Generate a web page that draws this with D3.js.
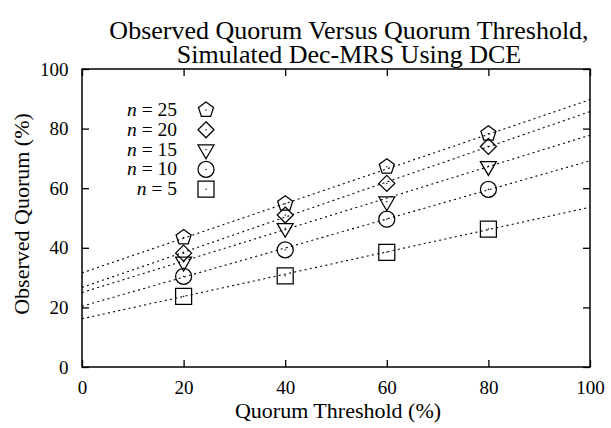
<!DOCTYPE html>
<html>
<head>
<meta charset="utf-8">
<script src="https://cdn.jsdelivr.net/npm/d3@7"></script>
<style>
  body { margin: 0; background: #fff; }
  svg { display: block; }
</style>
</head>
<body>
<div id="chart"></div>
<script>
const width = 611;
const height = 428;
const serif = "'Liberation Serif', 'Times New Roman', serif";

// data
const thresholds = [20, 40, 60, 80];
const nValues = [25, 20, 15, 10, 5];
const shapes = ["pentagon", "diamond", "triangle", "circle", "square"];
const quorum25 = [43.5, 54.8, 67.2, 78.3];
const quorum20 = [38.2, 51.0, 61.6, 74.0];
const quorum15 = [35.3, 46.6, 55.5, 67.4];
const quorum10 = [30.4, 39.3, 49.6, 59.6];
const quorum5 = [23.7, 30.6, 38.5, 46.3];
const observed = [quorum25, quorum20, quorum15, quorum10, quorum5];
// fitted lines, value at threshold 0 and at 100
const fitAt0 = [31.6, 26.7, 25.0, 20.4, 16.2];
const fitAt100 = [89.7, 85.7, 77.8, 69.2, 53.6];
const axisTicks = [0, 20, 40, 60, 80, 100];

const margin = {top: 69, right: 21, bottom: 61, left: 82};

const svg = d3.select("#chart")
  .append("svg")
  .attr("width", width)
  .attr("height", height);

const x = d3.scaleLinear().domain([0, 100]).range([margin.left, width - margin.right]);
const y = d3.scaleLinear().domain([0, 100]).range([height - margin.bottom, margin.top]);

// title, two lines
svg.append("text")
  .attr("x", 349).attr("y", 38.5)
  .attr("text-anchor", "middle")
  .style("font-family", serif)
  .style("font-size", "26px")
  .text("Observed Quorum Versus Quorum Threshold,");
svg.append("text")
  .attr("x", 349).attr("y", 63)
  .attr("text-anchor", "middle")
  .style("font-family", serif)
  .style("font-size", "26px")
  .text("Simulated Dec-MRS Using DCE");

// axes, ticks on the inside like gnuplot
const fmt = d3.format("d");
const axisB = svg.append("g")
  .attr("transform", `translate(0,${y(0)})`)
  .call(d3.axisBottom(x).tickValues(axisTicks).tickFormat(fmt).tickSizeInner(-7).tickSizeOuter(0).tickPadding(14));
const axisL = svg.append("g")
  .attr("transform", `translate(${x(0)},0)`)
  .call(d3.axisLeft(y).tickValues(axisTicks).tickFormat(fmt).tickSizeInner(-7).tickSizeOuter(0).tickPadding(13.5));
const axisT = svg.append("g")
  .attr("transform", `translate(0,${y(100)})`)
  .call(d3.axisTop(x).tickValues(axisTicks).tickFormat("").tickSizeInner(-7).tickSizeOuter(0));
const axisR = svg.append("g")
  .attr("transform", `translate(${x(100)},0)`)
  .call(d3.axisRight(y).tickValues(axisTicks).tickFormat("").tickSizeInner(-7).tickSizeOuter(0));

[axisB, axisL, axisT, axisR].forEach(g => {
  g.select(".domain").remove();
  g.attr("font-family", null).attr("font-size", null);
  g.selectAll("line").attr("stroke", "#000").attr("stroke-width", 1.3);
  g.selectAll("text")
    .attr("fill", "#000")
    .style("font-size", "19px")
    .style("font-family", serif);
});

svg.append("rect")
  .attr("x", x(0))
  .attr("y", y(100))
  .attr("width", x(100) - x(0))
  .attr("height", y(0) - y(100))
  .attr("fill", "none")
  .attr("stroke", "#000")
  .attr("stroke-width", 1.5);

// axis titles
svg.append("text")
  .attr("x", (x(0) + x(100)) / 2 + 2)
  .attr("y", 418)
  .attr("text-anchor", "middle")
  .style("font-family", serif)
  .style("font-size", "22px")
  .text("Quorum Threshold (%)");

svg.append("text")
  .attr("transform", `translate(29,${(y(0) + y(100)) / 2 - 4}) rotate(-90)`)
  .attr("text-anchor", "middle")
  .style("font-family", serif)
  .style("font-size", "22px")
  .text("Observed Quorum (%)");

// fit lines
svg.append("clipPath").attr("id", "plotclip")
  .append("rect")
  .attr("x", x(0)).attr("y", y(100))
  .attr("width", x(100) - x(0)).attr("height", y(0) - y(100));

const plot = svg.append("g").attr("clip-path", "url(#plotclip)");

plot.selectAll("line.fit")
  .data(nValues)
  .join("line")
  .attr("class", "fit")
  .attr("x1", x(0))
  .attr("x2", x(100))
  .attr("y1", (d, i) => y(fitAt0[i]))
  .attr("y2", (d, i) => y(fitAt100[i]))
  .attr("stroke", "#000")
  .attr("stroke-width", 1.1)
  .attr("stroke-dasharray", "2,3.3");

// point shapes
function shapePath(kind) {
  const p = d3.path();
  if (kind == "pentagon") {
    const r = 7.9;
    for (let k = 0; k < 5; k++) {
      const a = -Math.PI / 2 + k * 2 * Math.PI / 5;
      if (k == 0) p.moveTo(r * Math.cos(a), r * Math.sin(a));
      else p.lineTo(r * Math.cos(a), r * Math.sin(a));
    }
    p.closePath();
  } else if (kind == "diamond") {
    const r = 8;
    p.moveTo(0, -r); p.lineTo(r, 0); p.lineTo(0, r); p.lineTo(-r, 0); p.closePath();
  } else if (kind == "triangle") {
    const s = 16, h = s * Math.sqrt(3) / 2;
    p.moveTo(-s / 2, -h / 3); p.lineTo(s / 2, -h / 3); p.lineTo(0, 2 * h / 3); p.closePath();
  } else if (kind == "circle") {
    p.moveTo(8, 0); p.arc(0, 0, 8, 0, 2 * Math.PI);
  } else {
    const r = 8;
    p.rect(-r, -r, 2 * r, 2 * r);
  }
  return p.toString();
}

function drawMarker(g, kind) {
  g.append("path")
    .attr("d", shapePath(kind))
    .attr("fill", "none")
    .attr("stroke", "#000")
    .attr("stroke-width", 1.25);
  g.append("rect")
    .attr("x", -0.6).attr("y", -0.6)
    .attr("width", 1.2).attr("height", 1.2)
    .attr("fill", "#000");
}

const series = svg.append("g");
nValues.forEach((n, i) => {
  const sg = series.append("g");
  sg.selectAll("g")
    .data(thresholds)
    .join("g")
    .attr("transform", (d, j) => `translate(${x(d)},${y(observed[i][j])})`)
    .each(function() { drawMarker(d3.select(this), shapes[i]); });
});

// legend
const legend = svg.append("g");
nValues.forEach((n, i) => {
  const cy = 110 + i * 19.8;
  const t = legend.append("text")
    .attr("x", 177)
    .attr("y", cy + 6)
    .attr("text-anchor", "end")
    .style("font-family", serif)
    .style("font-size", "19.5px");
  t.append("tspan").style("font-style", "italic").text("n");
  t.append("tspan").text(" = " + n);
  drawMarker(legend.append("g").attr("transform", `translate(206,${cy})`), shapes[i]);
});
</script>
</body>
</html>
